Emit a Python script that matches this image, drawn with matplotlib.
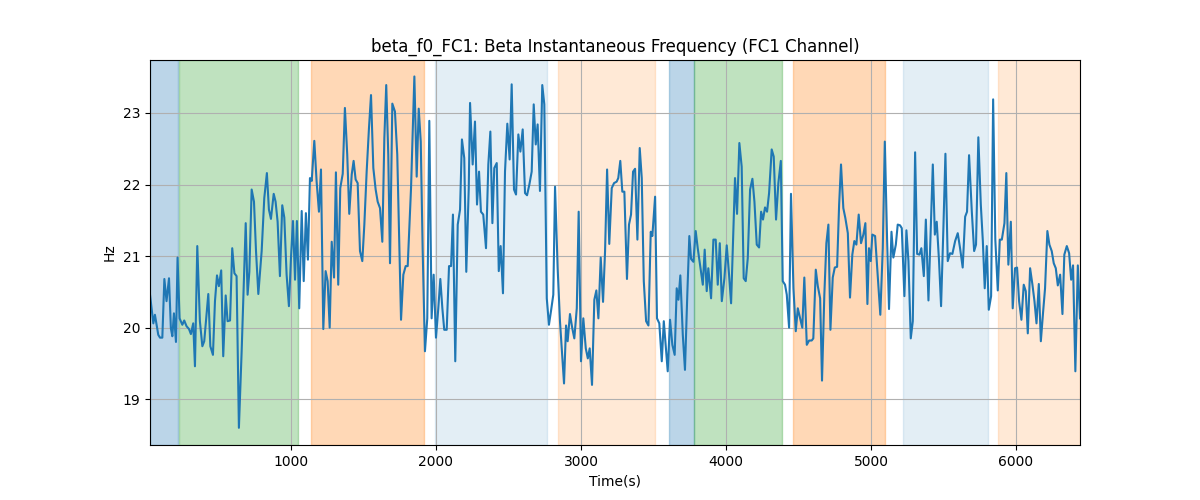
import matplotlib
matplotlib.use("Agg")
import matplotlib.pyplot as plt

times = [28, 51, 62, 85, 97, 113, 127, 142, 159, 172, 182, 193, 207, 218, 232, 251, 264, 280, 297, 310,
         326, 338, 354, 372, 389, 402, 414, 430, 444, 462, 476, 490, 503, 519, 533, 550, 563,
         580, 595, 610, 625, 641, 660, 688, 701, 713, 729, 745, 759, 775, 798, 816, 834, 848, 862, 881,
         894, 908, 924, 940, 954, 970, 986, 1000, 1014, 1028, 1041, 1057, 1074, 1088, 1103, 1117, 1131,
         1143, 1161, 1177, 1193, 1207, 1223, 1239, 1253, 1267, 1281, 1297, 1310, 1326, 1340, 1357, 1372,
         1388, 1402, 1419, 1432, 1446, 1460, 1476, 1492, 1506, 1522, 1538, 1552, 1568, 1584, 1598, 1614,
         1630, 1644, 1657, 1671, 1683,
         1699, 1717, 1733, 1759, 1775, 1791, 1805, 1828, 1851, 1867, 1881, 1895, 1908, 1924, 1940, 1954,
         1970, 1984, 2000, 2016, 2030, 2044, 2057, 2074, 2090, 2104, 2117, 2133, 2150, 2166, 2179, 2195,
         2209, 2226, 2235,
         2253, 2269, 2283, 2297, 2310, 2326, 2345, 2361, 2375, 2389, 2402, 2419, 2433, 2446, 2462, 2476,
         2492, 2508, 2522, 2538, 2552, 2568, 2582, 2598, 2614, 2628, 2644, 2660, 2674, 2688, 2701, 2717,
         2733, 2747, 2764, 2779,
         2793, 2809, 2821, 2839, 2855, 2883, 2897, 2908, 2924, 2940, 2954, 2971, 2984, 3000, 3016, 3033,
         3047, 3060, 3076, 3092, 3106, 3120, 3136, 3152, 3166, 3180, 3195, 3212, 3228, 3246, 3257, 3271,
         3285, 3299, 3317, 3331,
         3345, 3359, 3373, 3389, 3405, 3419, 3433, 3449, 3465, 3481, 3492, 3511, 3524, 3540, 3557, 3571,
         3584, 3598, 3614, 3630, 3646, 3660, 3672, 3685, 3702, 3717, 3733, 3747, 3759, 3775, 3791, 3805,
         3821, 3840, 3853, 3867, 3878,
         3897, 3913, 3929, 3943, 3957, 3971, 3989, 4005, 4021, 4035, 4051, 4062, 4076, 4092, 4108, 4122,
         4136, 4150, 4166, 4182, 4196, 4212, 4228, 4242, 4255, 4269, 4283, 4297, 4315, 4329, 4345, 4361,
         4378, 4391, 4407, 4419, 4435,
         4448, 4465, 4481, 4495, 4511, 4526, 4540, 4557, 4573, 4591, 4602, 4619, 4633, 4649, 4662, 4678,
         4692, 4706, 4720, 4736, 4750, 4766, 4780, 4793, 4809, 4823, 4840, 4855, 4871, 4885, 4899, 4915,
         4931, 4947, 4961, 4975, 4986,
         4998, 5009, 5028, 5046, 5064, 5081, 5095, 5111, 5124, 5141, 5154, 5171, 5184, 5200, 5212, 5230,
         5244, 5258, 5274, 5288, 5304, 5318, 5334, 5347, 5364, 5378, 5396, 5409, 5426, 5440, 5453, 5469,
         5483, 5499, 5513, 5529, 5545,
         5561, 5580, 5598, 5614, 5632, 5649, 5662, 5676, 5695, 5711, 5724, 5740, 5757, 5771, 5784, 5798,
         5812, 5828, 5842, 5857, 5874, 5888, 5902, 5920, 5933, 5947, 5964, 5977, 5993, 6007, 6021, 6037,
         6053, 6067, 6081, 6097,
         6113, 6127, 6141, 6157, 6171, 6187, 6200, 6216, 6230, 6246, 6260, 6274, 6288, 6304, 6320, 6333,
         6350, 6366, 6380, 6393, 6409, 6426, 6441]

freq_hz = [20.46, 20.06, 20.18, 19.90, 19.86, 19.86, 20.68, 20.37, 20.69, 19.99, 19.88, 20.20, 19.80, 20.98, 20.13, 20.04, 20.10, 20.02, 19.98, 19.91,
           20.06, 19.46, 21.14, 20.09, 19.74, 19.81, 20.09, 20.47, 19.74, 19.62, 20.37, 20.73, 20.58, 20.80, 19.60, 20.45, 20.09,
           20.10, 21.11, 20.76, 20.72, 18.60, 19.67, 21.46, 20.46, 20.78, 21.93, 21.76, 21.07, 20.47, 21.07, 21.81, 22.16, 21.65, 21.52, 21.87,
           21.76, 21.48, 20.72, 21.71, 21.54, 20.74, 20.30, 20.97, 21.49, 20.67, 21.49, 20.27, 21.63, 20.65, 21.60, 20.95, 22.09,
           22.05, 22.61, 22.04, 21.62, 22.21, 19.98, 20.79, 20.65, 20.00, 21.20, 20.70, 22.17, 20.60, 21.95, 22.15, 23.07,
           22.42, 21.59, 22.14, 22.33, 22.07, 22.02, 21.07, 20.93, 21.44, 22.18, 22.79, 23.25, 22.23, 21.93, 21.76, 21.67,
           21.20, 22.65, 23.39, 22.42, 20.90,
           23.13, 23.02, 22.42, 20.11, 20.74, 20.86, 20.86, 21.95, 23.51, 22.11, 23.06, 22.60, 21.11, 19.67, 20.13, 22.89,
           20.13, 20.74, 19.86, 20.27, 20.68, 20.27, 19.97, 19.97, 20.86, 20.86, 21.58, 19.53, 21.44, 21.65, 22.63, 22.37,
           20.78, 21.95, 23.14,
           22.28, 22.88, 21.72, 22.18, 21.62, 21.58, 21.11, 22.28, 22.74, 21.46, 22.23, 22.30, 20.79, 21.14, 20.48, 22.18,
           22.85, 22.35, 23.40, 21.93, 21.86, 22.70, 22.46, 22.77, 21.88, 21.85, 22.00, 22.18, 23.12, 22.56, 22.84, 21.91,
           23.39, 23.12, 20.41, 20.04,
           20.23, 20.46, 21.97, 20.83, 20.09, 19.22, 20.03, 19.81, 20.19, 19.99, 19.85, 20.27, 21.62, 19.53, 20.13, 19.71,
           19.57, 19.71, 19.20, 20.39, 20.52, 20.13, 20.98, 20.36, 21.07, 22.21, 21.17, 21.95, 22.02, 22.04, 22.09, 22.33,
           21.90, 21.90, 20.68, 21.44,
           21.58, 22.18, 22.22, 21.23, 22.51, 22.09, 20.65, 20.09, 20.03, 21.34, 21.28, 21.83, 20.13, 20.06, 19.53, 20.09,
           19.76, 19.39, 20.11, 19.76, 19.62, 20.55, 20.39, 20.73, 19.90, 19.41, 20.46, 21.28, 20.96, 20.92, 21.35, 21.11,
           20.88, 20.60, 21.09, 20.51, 20.83,
           20.41, 21.23, 21.23, 20.60, 21.18, 20.37, 20.69, 21.15, 20.74, 20.34, 21.39, 22.09, 21.59, 22.58, 22.25, 20.69,
           20.65, 20.97, 21.93, 22.08, 21.76, 21.16, 21.12, 21.62, 21.51, 21.68, 21.62, 21.88, 22.49, 22.39, 21.51, 22.02,
           22.33, 20.65, 20.60, 20.46, 20.00,
           21.87, 20.55, 19.95, 20.27, 20.13, 20.00, 20.70, 19.76, 19.82, 19.82, 19.85, 20.81, 20.58, 20.41, 19.26, 20.46,
           21.18, 21.44, 19.97, 20.70, 20.84, 20.85, 21.72, 22.28, 21.67, 21.53, 21.32, 20.42, 21.02, 21.21, 21.16, 21.58,
           21.18, 21.30, 21.46, 20.33, 21.11,
           20.93, 21.30, 21.28, 20.74, 20.18, 21.11, 22.60, 21.21, 20.26, 21.34, 20.98, 21.16, 21.44, 21.43, 21.39, 20.44,
           21.36, 20.93, 19.85, 20.09, 22.45, 21.03, 21.02, 21.11, 20.72, 21.51, 20.38, 21.21, 22.28, 21.30, 21.48, 20.93,
           20.30, 21.39, 22.43, 20.93, 21.04,
           21.03, 21.21, 21.32, 21.11, 20.84, 21.55, 21.62, 22.41, 21.62, 21.07, 21.16, 22.66, 21.72, 21.21, 20.55, 21.14,
           20.25, 20.44, 23.19, 21.23, 20.52, 21.23, 21.23, 21.46, 22.16, 20.88, 21.48, 20.27, 20.83, 20.84, 20.37, 20.11,
           20.60, 20.51, 19.92, 20.83,
           20.60, 20.37, 20.06, 20.61, 19.81, 20.23, 20.55, 21.35, 21.16, 21.07, 20.90, 20.83, 20.59, 20.74, 20.19, 21.02,
           21.14, 21.04, 20.67, 20.87, 19.39, 20.87, 20.13]

span_starts = [28, 226, 1138, 1993, 2839, 3607, 3781, 4462, 5223, 5878]
span_ends = [222, 1046, 1917, 2766, 3511, 3779, 4384, 5097, 5805, 6441]
span_colors = ["tab:blue", "tab:green", "tab:orange", "tab:blue", "tab:orange",
               "tab:blue", "tab:green", "tab:orange", "tab:blue", "tab:orange"]
span_alphas = [0.3, 0.3, 0.3, 0.12, 0.17, 0.3, 0.3, 0.3, 0.12, 0.17]

fig, ax = plt.subplots(figsize=(12, 5), dpi=100)
for s, e, c, a in zip(span_starts, span_ends, span_colors, span_alphas):
    ax.axvspan(s, e, color=c, alpha=a)
ax.plot(times, freq_hz, color="tab:blue", linewidth=1.5)
ax.set_xlim(times[0], times[-1])
ax.set_ylim(18.36, 23.74)
ax.grid(True)
ax.set_title("beta_f0_FC1: Beta Instantaneous Frequency (FC1 Channel)")
ax.set_xlabel("Time(s)")
ax.set_ylabel("Hz")
fig.savefig("out.png", dpi=100)
